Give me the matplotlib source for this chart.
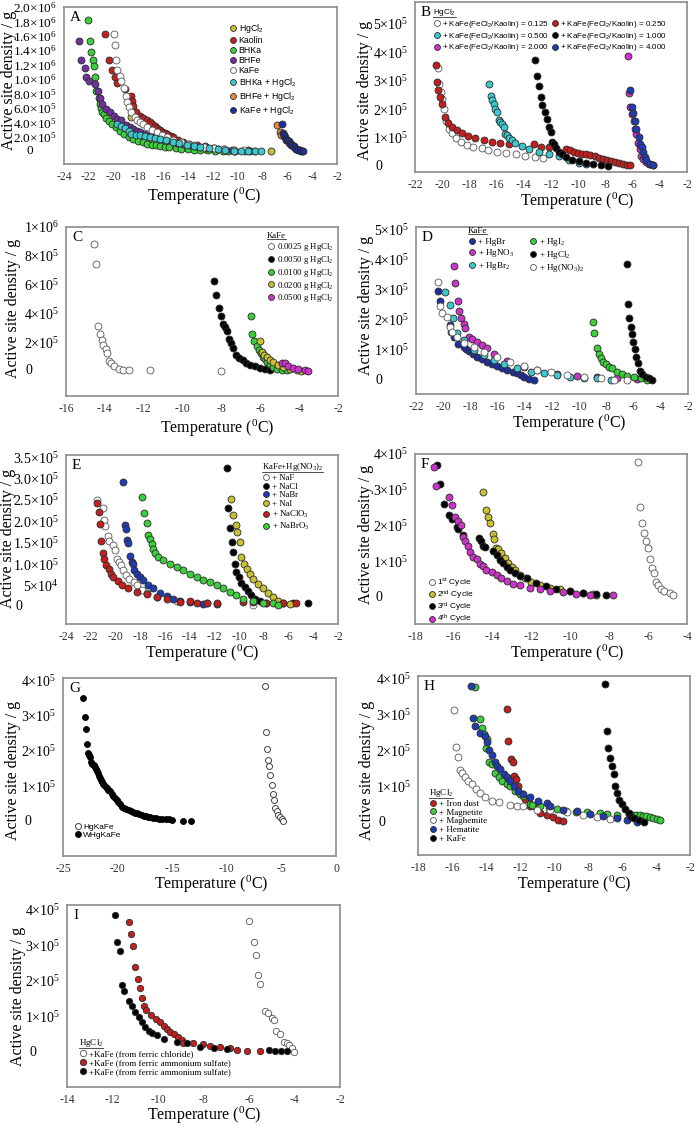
# Nine-panel active site density vs temperature figure.
import matplotlib
matplotlib.use("Agg")
from matplotlib import pyplot as plt
from matplotlib.lines import Line2D
from matplotlib.transforms import blended_transform_factory

plt.rcParams["font.family"] = ["Liberation Serif", "DejaVu Serif"]
plt.rcParams["mathtext.default"] = "regular"
plt.rcParams["axes.unicode_minus"] = False

# ---------------- data (temperature in C, density in units of 1e5 per g) ----------------
# Panel A
a_hgcl2_t = [-18.6, -18.3, -17.8, -17.2, -16.5, -15.8, -15.0, -14.2, -13.4, -12.6, -11.8, -11.0, -10.2, -9.4, -9.0, -7.3]
a_hgcl2_y = [4.7, 2.4, 1.9, 1.5, 1.15, 0.9, 0.7, 0.52, 0.38, 0.28, 0.2, 0.13, 0.08, 0.05, 0.03, 0.01]
a_kaolin_t = [-20.7, -20.4, -20.1, -19.9, -19.7, -19.1, -18.6, -18.5, -18.4, -18.2, -17.9, -17.6, -17.3, -17.1, -16.9, -16.7,
              -16.5, -16.3, -16.1, -15.9, -15.7, -15.4, -15.2, -14.8, -14.4, -13.9, -13.3, -12.6, -11.9, -11.1, -10.3, -9.2]
a_kaolin_y = [16.3, 12.6, 11.2, 10.3, 9.5, 8.6, 7.7, 7.0, 6.2, 5.4, 4.9, 4.6, 4.3, 4.0, 3.7, 3.5,
              3.2, 2.9, 2.7, 2.5, 2.35, 2.15, 1.96, 1.6, 1.28, 1.0, 0.82, 0.65, 0.5, 0.35, 0.23, 0.14]
a_bhka_t = [-22.1, -21.9, -21.8, -21.7, -21.6, -21.5, -21.4, -21.2, -21.1, -21.0, -20.9, -20.8, -20.6, -20.4, -20.1, -19.8,
            -19.5, -19.2, -18.8, -18.4, -18.0, -17.6, -17.3, -16.9, -16.6, -16.3, -15.9, -15.5, -15.0, -14.6, -14.0, -13.5,
            -13.0, -12.4, -11.8, -11.2, -10.8, -10.3]
a_bhka_y = [18.2, 15.3, 13.7, 12.6, 11.8, 10.3, 8.4, 7.4, 6.5, 6.0, 5.5, 5.1, 4.6, 4.2, 3.8, 3.3,
            2.8, 2.4, 2.0, 1.7, 1.45, 1.25, 1.05, 0.92, 0.82, 0.73, 0.62, 0.52, 0.44, 0.37, 0.28, 0.21,
            0.14, 0.1, 0.07, 0.05, 0.04, 0.03]
a_bhfe_t = [-22.8, -22.6, -22.3, -22.2, -22.0, -21.5, -21.3, -21.1, -20.9, -20.6, -20.3, -20.0, -19.7, -19.4, -19.0, -18.7,
            -18.4, -18.1, -17.9, -17.5, -17.1, -16.8, -16.4, -16.1, -15.7, -15.3, -14.9, -14.4, -13.9, -13.5, -13.0, -12.5,
            -12.0, -11.6, -11.0, -10.5]
a_bhfe_y = [15.3, 12.6, 11.6, 10.3, 9.7, 9.3, 8.3, 7.4, 6.5, 5.9, 5.4, 4.9, 4.5, 4.3, 3.6, 3.3,
            3.1, 2.8, 2.6, 2.35, 2.15, 2.0, 1.8, 1.65, 1.5, 1.35, 1.15, 0.96, 0.8, 0.7, 0.6, 0.5,
            0.4, 0.3, 0.2, 0.14]
a_kafe_t = [-20.0, -19.9, -19.8, -19.7, -19.5, -19.4, -19.2, -19.0, -18.9, -18.8, -18.6, -18.3, -18.1, -17.9, -17.6, -17.3,
            -16.9, -16.5, -16.1, -15.7, -15.2, -14.6, -14.0, -13.5, -12.7, -11.9, -11.1, -10.3, -9.5, -8.6]
a_kafe_y = [16.3, 14.7, 12.6, 11.2, 10.4, 9.7, 8.8, 7.7, 6.8, 6.1, 5.4, 4.7, 4.3, 4.0, 3.7, 3.4,
            3.0, 2.65, 2.3, 1.96, 1.6, 1.28, 1.0, 0.82, 0.6, 0.41, 0.28, 0.18, 0.1, 0.05]
a_bhka_hg_t = [-19.7, -19.4, -19.1, -18.8, -18.6, -18.2, -17.9, -17.5, -17.1, -16.7, -16.3, -15.8, -15.2, -14.7, -14.1, -13.5,
               -13.0, -12.3, -11.6, -11.0, -10.3, -9.7, -9.2, -8.6, -8.1]
a_bhka_hg_y = [3.8, 3.5, 3.2, 2.8, 2.4, 2.3, 2.2, 2.1, 2.0, 1.85, 1.7, 1.5, 1.28, 1.1, 0.91, 0.75,
               0.6, 0.45, 0.3, 0.2, 0.09, 0.07, 0.05, 0.05, 0.05]
a_bhfe_hg_t = [-6.8, -6.6, -6.5, -6.3, -6.1, -5.9, -5.7, -5.5, -5.3, -5.1, -4.9]
a_bhfe_hg_y = [3.6, 2.6, 2.3, 2.1, 1.5, 1.1, 0.8, 0.55, 0.37, 0.15, 0.05]
a_kafe_hg_t = [-6.4, -6.35, -6.3, -6.2, -6.1, -6.0, -5.9, -5.8, -5.7, -5.6, -5.5, -5.4, -5.3, -5.15, -5.0, -4.85, -4.7]
a_kafe_hg_y = [3.8, 2.5, 2.2, 1.9, 1.7, 1.55, 1.4, 1.2, 1.05, 0.85, 0.7, 0.5, 0.37, 0.2, 0.1, 0.05, 0.02]

# Panel B
b_0125_t = [-20.3, -20.2, -20.1, -20.0, -19.9, -19.7, -19.5, -19.3, -19.0, -18.6, -18.2, -17.7, -17.1, -16.6, -16.0, -15.3,
            -14.6, -13.9, -13.2, -12.6]
b_0125_y = [3.45, 2.9, 2.6, 2.35, 2.0, 1.6, 1.3, 1.15, 1.0, 0.85, 0.75, 0.68, 0.62, 0.55, 0.5, 0.45,
            0.41, 0.37, 0.32, 0.27]
b_0250_t = [-20.47, -20.37, -20.3, -20.17, -20.05, -19.8, -19.56, -19.31, -18.94, -18.57, -18.07, -17.58, -16.96, -16.35,
            -15.73, -15.11, -13.26, -12.77, -12.15, -10.91, -10.6, -10.3, -10.0, -9.7, -9.4, -9.1, -8.8, -8.5, -8.2, -7.9,
            -7.6, -7.3, -7.0, -6.7, -6.4, -6.2]
b_0250_y = [3.56, 2.97, 2.66, 2.42, 2.19, 1.74, 1.51, 1.37, 1.25, 1.16, 1.04, 1.0, 0.93, 0.84,
            0.81, 0.78, 0.76, 0.67, 0.67, 0.59, 0.55, 0.5, 0.47, 0.44, 0.41, 0.38, 0.34, 0.3, 0.26, 0.22,
            0.17, 0.13, 0.09, 0.06, 0.04, 0.03]
b_0500_t = [-16.59, -16.42, -16.35, -16.22, -16.1, -15.98, -15.85, -15.73, -15.6, -15.48, -15.36, -15.23, -15.11, -14.86,
            -14.62, -14.12, -13.63, -12.89, -12.15, -11.41, -10.67, -9.93, -9.43]
b_0500_y = [2.87, 2.45, 2.31, 2.17, 2.01, 1.9, 1.63, 1.55, 1.49, 1.37, 1.14, 1.08, 0.98, 0.9,
            0.81, 0.7, 0.61, 0.49, 0.41, 0.35, 0.22, 0.12, 0.08]
b_1000_t = [-13.19, -13.06, -12.89, -12.77, -12.64, -12.47, -12.32, -12.15, -12.02, -11.9, -11.78, -11.6, -11.41, -11.16,
            -10.91, -10.42, -9.93, -9.43, -8.94, -8.32, -7.83]
b_1000_y = [3.74, 3.15, 2.83, 2.42, 2.13, 1.9, 1.66, 1.39, 1.19, 0.84, 0.76, 0.64, 0.49, 0.41,
            0.32, 0.22, 0.16, 0.12, 0.08, 0.035, 0.01]
b_2000_t = [-6.35, -6.27, -6.17, -6.05, -5.93, -5.8, -5.73, -5.6, -5.48, -5.36, -5.23, -5.04, -4.79, -4.49]
b_2000_y = [3.86, 2.56, 2.07, 1.84, 1.6, 1.31, 1.14, 0.81, 0.61, 0.37, 0.26, 0.14, 0.08, 0.035]
b_4000_t = [-6.22, -6.05, -5.98, -5.85, -5.73, -5.56, -5.43, -5.33, -5.23, -5.11, -4.99, -4.74, -4.49]
b_4000_y = [2.66, 2.07, 1.86, 1.58, 1.31, 1.02, 0.78, 0.67, 0.49, 0.32, 0.2, 0.08, 0.02]

# Panel C
c_0025_t = [-14.54, -14.46, -14.37, -14.27, -14.17, -14.07, -13.96, -13.89, -13.79, -13.69, -13.55, -13.29, -13.07, -12.78,
            -11.67, -8.0]
c_0025_y = [8.83, 7.4, 3.09, 2.55, 2.15, 1.8, 1.5, 1.22, 0.7, 0.52, 0.33, 0.12, 0.09, 0.09, 0.05, 0.02]
c_0050_t = [-8.4, -8.29, -8.12, -8.0, -7.9, -7.8, -7.7, -7.59, -7.51, -7.39, -7.25, -7.08, -6.91, -6.74, -6.53, -6.27,
            -6.02, -5.76, -5.5]
c_0050_y = [6.25, 5.27, 4.38, 3.8, 3.28, 3.04, 2.74, 2.2, 1.92, 1.57, 1.1, 0.91, 0.75, 0.52, 0.4, 0.33, 0.23, 0.16, 0.09]
c_0100_t = [-6.5, -6.41, -6.31, -6.19, -6.09, -5.98, -5.88, -5.76, -5.64, -5.5, -5.33, -5.16, -4.9, -4.65]
c_0100_y = [3.84, 2.53, 2.04, 1.73, 1.45, 1.22, 0.98, 0.8, 0.63, 0.47, 0.28, 0.16, 0.09, 0.05]
c_0200_t = [-6.02, -5.93, -5.81, -5.67, -5.5, -5.33, -5.08, -4.82, -4.48, -4.13, -3.88]
c_0200_y = [2.04, 1.33, 1.1, 0.94, 0.75, 0.59, 0.42, 0.28, 0.16, 0.09, 0.02]
c_0500_t = [-4.9, -4.73, -4.56, -4.3, -4.05, -3.7, -3.53]
c_0500_y = [0.56, 0.52, 0.35, 0.23, 0.12, 0.05, 0.0]

# Panel D
d_hgbr_t = [-20.4, -20.21, -19.52, -19.4, -19.23, -18.9, -18.49, -18.3, -18.12, -17.8, -17.5, -17.15, -16.77, -16.4,
            -16.04, -15.7, -15.3, -14.9, -14.56, -14.3, -14.07, -13.7, -13.34]
d_hgbr_y = [2.96, 2.63, 1.83, 1.6, 1.44, 1.2, 1.08, 1.02, 0.97, 0.87, 0.77, 0.69, 0.61, 0.53,
            0.46, 0.39, 0.33, 0.27, 0.22, 0.16, 0.11, 0.05, 0.0]
d_hgno3_t = [-19.23, -19.1, -18.93, -18.81, -18.66, -18.49, -18.37, -18.12, -17.88, -17.5, -17.14, -16.77, -16.28, -15.3,
             -14.07, -13.09, -11.62, -10.15, -8.67, -7.2, -5.73]
d_hgno3_y = [3.79, 3.21, 2.63, 2.3, 2.05, 1.86, 1.71, 1.44, 1.35, 1.27, 1.16, 1.05, 0.86, 0.64,
             0.44, 0.33, 0.2, 0.13, 0.09, 0.06, 0.03]
d_hgbr2_t = [-19.84, -19.47, -19.3, -18.98, -18.49, -17.75, -17.02, -16.28, -15.55, -14.56, -13.58, -12.6, -11.62, -10.64,
             -9.66, -8.67, -7.69]
d_hgbr2_y = [2.93, 2.49, 2.05, 1.57, 1.33, 1.0, 0.83, 0.66, 0.53, 0.39, 0.28, 0.22, 0.17, 0.11, 0.08, 0.06, 0.02]
d_hgno32_t = [-20.4, -20.26, -20.09, -19.72, -19.52, -19.35, -18.98, -18.49, -17.75, -17.02, -16.04, -15.06, -14.07,
              -13.09, -12.11, -10.88, -9.66, -8.43, -7.45, -6.47]
d_hgno32_y = [3.26, 2.46, 2.23, 2.1, 1.77, 1.6, 1.44, 1.22, 1.11, 0.94, 0.77, 0.61, 0.48, 0.35, 0.28, 0.17, 0.11, 0.06,
              0.02, 0.0]
d_hgi2_t = [-8.99, -8.92, -8.72, -8.55, -8.43, -8.26, -8.06, -7.82, -7.57, -7.2, -6.83, -6.47, -5.98, -5.48, -4.99]
d_hgi2_y = [1.91, 1.55, 1.07, 0.85, 0.72, 0.61, 0.52, 0.44, 0.39, 0.28, 0.2, 0.13, 0.09, 0.06, 0.02]
d_hgcl2_t = [-6.52, -6.42, -6.34, -6.22, -6.15, -6.02, -5.9, -5.8, -5.68, -5.56, -5.36, -5.12, -4.87, -4.63]
d_hgcl2_y = [3.85, 2.52, 2.05, 1.75, 1.52, 1.25, 1.02, 0.75, 0.55, 0.31, 0.2, 0.11, 0.06, 0.0]

# Panel E
e_naf_t = [-21.5, -21.04, -20.96, -20.83, -20.64, -20.56, -20.21, -20.02, -19.89, -19.7, -19.54, -19.35, -19.13, -18.87,
           -18.54, -18.27, -17.87, -17.47, -16.66, -15.05, -12.63, -8.87]
e_naf_y = [2.5, 2.31, 2.02, 1.9, 1.65, 1.53, 1.44, 1.32, 1.13, 1.05, 0.97, 0.86, 0.74, 0.66, 0.58, 0.5, 0.4, 0.33,
           0.23, 0.14, 0.08, 0.05]
e_nacl_t = [-10.94, -10.88, -10.75, -10.56, -10.48, -10.34, -10.21, -10.02, -9.81, -9.54, -9.27, -9.0, -8.73, -8.33,
            -7.79, -6.98, -5.64, -4.43]
e_nacl_y = [3.24, 2.32, 1.85, 1.52, 1.28, 1.01, 0.82, 0.7, 0.56, 0.47, 0.37, 0.27, 0.19, 0.14, 0.1, 0.09, 0.09, 0.08]
e_nabr_t = [-19.35, -19.21, -19.13, -19.03, -18.95, -18.81, -18.68, -18.6, -18.46, -18.27, -18.01, -17.74, -17.33,
            -16.93, -16.39, -15.85, -15.32, -14.78, -13.97, -12.9, -11.82]
e_nabr_y = [2.92, 1.92, 1.83, 1.57, 1.49, 1.19, 1.05, 1.0, 0.86, 0.78, 0.7, 0.62, 0.51, 0.43, 0.33, 0.25, 0.18, 0.13,
            0.11, 0.06, 0.06]
e_nai_t = [-10.67, -10.48, -10.29, -10.13, -9.94, -9.81, -9.62, -9.4, -9.13, -8.87, -8.46, -8.06, -7.66, -7.25, -6.85,
           -6.45, -5.91]
e_nai_y = [2.53, 2.14, 1.91, 1.75, 1.52, 1.17, 1.01, 0.89, 0.76, 0.66, 0.54, 0.43, 0.33, 0.23, 0.14, 0.09, 0.06]
e_naclo3_t = [-21.5, -21.37, -21.28, -21.18, -21.04, -20.91, -20.75, -20.56, -20.37, -20.16, -19.83, -19.48, -18.95,
              -18.27, -17.47, -16.66, -15.85, -14.78, -13.97, -13.44, -12.63, -11.82, -9.67, -8.87, -7.79, -6.45, -5.37]
e_naclo3_y = [2.43, 2.22, 1.94, 1.53, 1.26, 1.13, 0.97, 0.89, 0.76, 0.7, 0.61, 0.51, 0.43, 0.35, 0.29, 0.23, 0.19,
              0.12, 0.14, 0.09, 0.1, 0.09, 0.11, 0.12, 0.09, 0.1, 0.08]
e_nabro3_t = [-17.87, -17.68, -17.47, -17.33, -17.2, -17.06, -16.93, -16.8, -16.53, -16.12, -15.59, -15.05, -14.51,
              -13.97, -13.44, -12.9, -12.36, -11.82, -11.28, -10.75, -10.21, -9.67, -8.87, -8.06, -7.25, -6.85]
e_nabro3_y = [2.57, 2.19, 1.97, 1.69, 1.58, 1.48, 1.36, 1.26, 1.17, 1.09, 1.01, 0.93, 0.86, 0.78, 0.7, 0.64, 0.58,
              0.51, 0.43, 0.35, 0.27, 0.19, 0.14, 0.1, 0.08, 0.05]

# Panel F
f_c1_t = [-6.51, -6.41, -6.32, -6.22, -6.1, -6.01, -5.93, -5.81, -5.72, -5.62, -5.5, -5.33, -5.16, -4.9, -4.7]
f_c1_y = [3.79, 2.53, 2.06, 1.78, 1.56, 1.38, 1.06, 0.82, 0.66, 0.42, 0.33, 0.23, 0.17, 0.11, 0.07]
f_c2_t = [-14.52, -14.32, -14.23, -14.15, -14.01, -13.92, -13.84, -13.72, -13.55, -13.38, -13.21, -13.03, -12.86, -12.61,
          -12.35, -12.01, -11.58, -11.07, -10.55, -10.04, -9.35, -8.84, -8.67]
f_c2_y = [2.95, 2.42, 2.23, 2.08, 1.76, 1.61, 1.38, 1.33, 1.22, 1.08, 0.94, 0.84, 0.75, 0.61, 0.52, 0.42, 0.33, 0.25,
          0.21, 0.16, 0.11, 0.08, 0.07]
f_c3_t = [-16.89, -16.72, -16.49, -16.25, -16.12, -15.86, -15.77, -15.52, -14.7, -14.61, -14.49, -14.4, -14.01, -13.8,
          -13.63, -13.46, -13.29, -13.12, -12.86, -12.61, -12.26, -11.75, -11.24, -10.72, -10.04, -9.35, -8.67, -8.15]
f_c3_y = [3.7, 3.17, 2.6, 2.29, 2.17, 1.97, 1.89, 1.73, 1.66, 1.56, 1.43, 1.4, 1.29, 1.17, 1.03, 0.94, 0.84, 0.75,
          0.66, 0.58, 0.52, 0.4, 0.3, 0.23, 0.16, 0.11, 0.09, 0.07]
f_c4_t = [-17.02, -16.92, -16.24, -16.12, -15.95, -15.77, -15.64, -15.52, -15.43, -15.26, -15.17, -15.0, -14.83, -14.66,
          -14.49, -14.32, -14.06, -13.8, -13.55, -13.29, -12.95, -12.61, -12.09, -11.58, -11.07, -10.38, -9.7, -9.01, -7.81]
f_c4_y = [3.65, 3.11, 2.8, 2.56, 2.25, 2.13, 2.01, 1.69, 1.56, 1.42, 1.26, 1.12, 1.05, 0.92, 0.86, 0.75, 0.7, 0.61,
          0.52, 0.45, 0.37, 0.33, 0.25, 0.21, 0.16, 0.13, 0.09, 0.07, 0.07]

# Panel G
g_hg_t = [-6.5, -6.44, -6.28, -6.19, -6.13, -6.04, -5.89, -5.73, -5.67, -5.58, -5.43, -5.28, -5.12, -4.97, -4.82]
g_hg_y = [3.84, 2.53, 2.06, 1.75, 1.57, 1.33, 1.03, 0.8, 0.63, 0.39, 0.3, 0.21, 0.14, 0.08, 0.04]
g_whg_t = [-23.17, -23.01, -22.92, -22.8, -22.71, -22.6, -22.5, -22.4, -22.3, -22.2, -22.1, -22.0, -21.9, -21.8, -21.7,
           -21.6, -21.5, -21.4, -21.3, -21.2, -21.1, -21.0, -20.85, -20.7, -20.55, -20.4, -20.25, -20.1, -19.95, -19.8,
           -19.6, -19.4, -19.2, -19.0, -18.8, -18.6, -18.4, -18.2, -18.0, -17.8, -17.6, -17.4, -17.2, -17.0, -16.8,
           -16.5, -16.2, -15.9, -15.6, -15.3, -15.0, -14.0, -13.3]
g_whg_y = [3.51, 2.95, 2.63, 2.21, 1.94, 1.88, 1.82, 1.7, 1.64, 1.6, 1.56, 1.5, 1.44, 1.38, 1.3,
           1.24, 1.18, 1.12, 1.08, 1.03, 0.99, 0.95, 0.9, 0.86, 0.8, 0.74, 0.68, 0.62, 0.56, 0.5,
           0.43, 0.39, 0.36, 0.33, 0.3, 0.28, 0.26, 0.24, 0.22, 0.2, 0.18, 0.16, 0.15, 0.13, 0.12,
           0.1, 0.09, 0.08, 0.07, 0.07, 0.06, 0.04, 0.04]

# Panel H
h_iron_t = [-12.77, -12.68, -12.54, -12.44, -12.38, -12.25, -12.09, -11.89, -11.7, -11.41, -11.11, -10.82, -10.43,
            -10.04, -9.74, -9.45]
h_iron_y = [3.15, 2.27, 1.77, 1.68, 1.3, 1.21, 1.0, 0.79, 0.65, 0.46, 0.44, 0.25, 0.21, 0.13, 0.07, 0.04]
h_magn_t = [-14.63, -14.38, -14.24, -14.09, -13.95, -13.99, -13.85, -13.66, -13.46, -13.26, -13.07, -12.77, -12.58,
            -12.29, -11.99, -11.8, -11.41, -11.31, -10.82, -10.3, -9.8, -9.3, -8.7, -8.08, -7.3, -6.9, -6.32, -5.6,
            -5.34, -5.15, -4.95, -4.75, -4.56, -4.35, -4.16, -3.95, -3.77]
h_magn_y = [3.77, 2.88, 2.64, 2.46, 2.33, 2.08, 1.68, 1.63, 1.37, 1.26, 1.16, 1.07, 1.0, 0.88, 0.79, 0.74, 0.51, 0.49,
            0.44, 0.4, 0.36, 0.32, 0.29, 0.27, 0.25, 0.23, 0.21, 0.22, 0.21, 0.2, 0.19, 0.17, 0.16, 0.13, 0.11, 0.08, 0.05]
h_magh_t = [-15.91, -15.75, -15.67, -15.55, -15.42, -15.22, -15.03, -14.83, -14.58, -14.34, -14.05, -13.66, -13.26,
            -12.58, -12.19, -11.8, -11.01, -10.23, -9.25, -8.27, -7.49, -6.71]
h_magh_y = [3.13, 2.1, 1.82, 1.46, 1.37, 1.26, 1.16, 1.05, 0.93, 0.81, 0.71, 0.6, 0.55, 0.48, 0.46, 0.44, 0.35, 0.33,
            0.28, 0.21, 0.14, 0.08]
h_hema_t = [-14.87, -14.77, -14.67, -14.38, -14.05, -13.95, -13.85, -13.66, -13.5, -13.36, -13.17, -12.97, -12.77,
            -12.58, -12.38, -12.09, -11.8, -11.41, -10.92, -10.43, -10.23, -9.45, -8.67, -7.88, -7.1, -6.32, -5.73, -5.14]
h_hema_y = [3.81, 2.92, 2.68, 2.5, 2.4, 2.24, 2.02, 1.87, 1.68, 1.56, 1.49, 1.35, 1.27, 1.16, 1.0, 0.88, 0.79, 0.69,
            0.6, 0.52, 0.44, 0.35, 0.3, 0.23, 0.18, 0.11, 0.05, 0.0]
h_kafe_t = [-7.0, -6.9, -6.8, -6.7, -6.6, -6.5, -6.4, -6.3, -6.15, -6.0, -5.8, -5.6, -5.45, -5.3, -5.0, -4.7]
h_kafe_y = [3.86, 2.55, 2.08, 1.79, 1.56, 1.33, 1.02, 0.82, 0.62, 0.5, 0.37, 0.25, 0.15, 0.1, 0.05, 0.01]

# Panel I
i_cl_t = [-6.02, -5.8, -5.7, -5.61, -5.51, -5.29, -5.17, -5.0, -4.88, -4.8, -4.63, -4.48, -4.34, -4.22, -4.12, -4.01]
i_cl_y = [3.68, 3.1, 2.74, 2.17, 1.91, 1.17, 1.09, 0.97, 0.9, 0.61, 0.52, 0.29, 0.25, 0.2, 0.11, 0.02]
i_red_t = [-11.29, -11.19, -11.1, -11.0, -10.9, -10.81, -10.71, -10.6, -10.52, -10.3, -10.09, -9.9, -9.75, -9.61,
           -9.46, -9.31, -9.1, -8.95, -8.88, -8.47, -8.0, -7.7, -7.27, -6.83, -6.53, -6.09, -5.51]
i_red_y = [3.65, 3.31, 2.98, 2.39, 2.05, 1.81, 1.52, 1.31, 1.19, 1.05, 0.93, 0.84, 0.75, 0.65, 0.58, 0.52, 0.43,
           0.34, 0.27, 0.27, 0.23, 0.18, 0.15, 0.11, 0.06, 0.04, 0.03]
i_blk_t = [-11.88, -11.8, -11.69, -11.58, -11.48, -11.29, -11.14, -11.0, -10.85, -10.71, -10.56, -10.41, -10.27,
           -10.05, -9.75, -9.17, -8.73, -8.14, -7.56, -6.97, -5.1, -4.85, -4.59, -4.31]
i_blk_y = [3.85, 3.08, 2.84, 1.9, 1.71, 1.44, 1.29, 1.14, 0.99, 0.84, 0.7, 0.61, 0.55, 0.49, 0.38, 0.29, 0.25, 0.15,
           0.11, 0.09, 0.06, 0.05, 0.04, 0.03]

# ---------------- colours ----------------
RED = "#c2201e"
GREEN = "#3ccf3c"
PURPLE = "#7030a0"
CYAN = "#3cc8cf"
ORANGE = "#e8893c"
NAVY = "#1f2f9c"
BLUE = "#1f3cb4"
MAGENTA = "#cc33c8"
OLIVE = "#c8c032"
EDGE = "#2b2b2b"

W, H = 698, 1125
fig = plt.figure(figsize=(W / 100, H / 100), dpi=100)


def panel(box, xlim, xticks, ylim, yticks, ylabels, letter, zero_x, ylab_xy, xlab_xy, ytick_fs=10):
    l, t, r, b = box
    ax = fig.add_axes([l / W, 1 - b / H, (r - l) / W, (b - t) / H])
    ax.set_xlim(*xlim)
    ax.set_ylim(*ylim)
    ax.set_xticks(xticks)
    ax.set_xticklabels([str(v) for v in xticks])
    ax.set_yticks(yticks)
    ax.set_yticklabels(["" if s == "0" else s for s in ylabels])
    ax.tick_params(length=0)
    ax.tick_params(axis="x", labelsize=8.5, pad=5, labelcolor="#333333")
    ax.tick_params(axis="y", labelsize=ytick_fs, pad=5)
    for sp in ax.spines.values():
        sp.set_color("#8c8c8c")
        sp.set_linewidth(1.2)
    tr = blended_transform_factory(fig.transFigure, ax.transData)
    ax.text(zero_x / W, 0, "0", transform=tr, ha="center", va="center", fontsize=ytick_fs)
    fig.text(ylab_xy[0] / W, 1 - ylab_xy[1] / H, "Active site density / g", rotation=90,
             ha="center", va="center", fontsize=11.5)
    fig.text(xlab_xy[0] / W, 1 - xlab_xy[1] / H, "Temperature ($^{0}$C)",
             ha="center", va="center", fontsize=11.5)
    ax.text(6 / (r - l), 1 - 4 / (b - t), letter, transform=ax.transAxes, ha="left", va="top", fontsize=11)
    return ax


def dots(ax, t, y, color, ms=5.0, edge=EDGE, mew=0.6):
    return ax.plot(t, y, "o", ls="none", ms=ms, mfc=color, mec=edge, mew=mew)[0]


titled = []


def key(ax, handles, labels, x, y, fs=6.5, family="Liberation Serif", title=None, ncol=1,
        spacing=0.1, colsp=0.5, mscale=0.85):
    leg = ax.legend(handles, labels, loc="upper left", bbox_to_anchor=(x / W, 1 - y / H),
                    bbox_transform=fig.transFigure, frameon=False, ncol=ncol,
                    prop={"family": family, "size": fs}, handlelength=0.9, handletextpad=0.2,
                    labelspacing=spacing, borderpad=0, borderaxespad=0, columnspacing=colsp,
                    title=title, title_fontproperties={"family": family, "size": fs},
                    alignment="left", markerscale=mscale)
    if title:
        titled.append(leg)
    return leg


ticks5 = [0, 1, 2, 3, 4, 5]
lab5 = ["0"] + ["%d×10$^{5}$" % v for v in ticks5[1:]]

# ---------------- A ----------------
axA = panel((64, 7, 337, 164), (-24, -2), list(range(-24, -1, 2)), (-1.78, 20.0), list(range(0, 21, 2)),
            ["0"] + ["%.1f×10$^{5}$" % v for v in (2, 4, 6, 8)] + ["%.1f×10$^{6}$" % (v / 10) for v in range(10, 21, 2)],
            "A", 30, (9, 80), (204, 196), ytick_fs=9.5)
hA = [dots(axA, a_hgcl2_t, a_hgcl2_y, OLIVE),
      dots(axA, a_kaolin_t, a_kaolin_y, RED),
      dots(axA, a_bhka_t, a_bhka_y, GREEN),
      dots(axA, a_bhfe_t, a_bhfe_y, PURPLE),
      dots(axA, a_kafe_t, a_kafe_y, "white", edge="#555555"),
      dots(axA, a_bhka_hg_t, a_bhka_hg_y, CYAN),
      dots(axA, a_bhfe_hg_t, a_bhfe_hg_y, ORANGE),
      dots(axA, a_kafe_hg_t, a_kafe_hg_y, NAVY)]
key(axA, hA, ["HgCl$_2$", "Kaolin", "BHKa", "BHFe", "KaFe", "BHKa + HgCl$_2$", "BHFe + HgCl$_2$", "KaFe + HgCl$_2$"],
    229, 22, fs=6.3, family="Liberation Sans", spacing=0.12)

# ---------------- B ----------------
axB = panel((415, 2, 687, 172), (-22, -2), list(range(-22, -1, 2)), (-0.21, 5.77), ticks5, lab5,
            "B", 379, (365, 90), (577, 201))
hB = [dots(axB, b_0125_t, b_0125_y, "white", edge="#555555"),
      dots(axB, b_0250_t, b_0250_y, RED),
      dots(axB, b_0500_t, b_0500_y, CYAN),
      dots(axB, b_1000_t, b_1000_y, "black"),
      dots(axB, b_2000_t, b_2000_y, MAGENTA),
      dots(axB, b_4000_t, b_4000_y, BLUE)]
labB = ["+ KaFe(FeCl$_2$/Kaolin) = %s" % s for s in ("0.125", "0.250", "0.500", "1.000", "2.000", "4.000")]
order = [0, 2, 4, 1, 3, 5]
key(axB, [hB[i] for i in order], [labB[i] for i in order], 433, 7, fs=5.8, family="Liberation Sans",
    title="HgCl$_2$", ncol=2, spacing=0.1, colsp=0.3)

# ---------------- C ----------------
axC = panel((66, 227, 338, 396), (-16, -2), list(range(-16, -1, 2)), (-1.75, 10.0), [0, 2, 4, 6, 8, 10],
            ["0", "2×10$^{5}$", "4×10$^{5}$", "6×10$^{5}$", "8×10$^{5}$", "1×10$^{6}$"],
            "C", 29, (13, 308), (217, 428))
hC = [dots(axC, c_0025_t, c_0025_y, "white", edge="#555555"),
      dots(axC, c_0050_t, c_0050_y, "black"),
      dots(axC, c_0100_t, c_0100_y, GREEN),
      dots(axC, c_0200_t, c_0200_y, OLIVE),
      dots(axC, c_0500_t, c_0500_y, MAGENTA)]
key(axC, hC, ["%s g HgCl$_2$" % s for s in ("0.0025", "0.0050", "0.0100", "0.0200", "0.0500")],
    267, 232, fs=6.3, title="KaFe", spacing=0.1)

# ---------------- D ----------------
axD = panel((416, 227, 688, 394), (-22, -2), list(range(-22, -1, 2)), (-0.46, 5.07), ticks5, lab5,
            "D", 379, (366, 305), (569, 423))
hD = [dots(axD, d_hgbr_t, d_hgbr_y, NAVY),
      dots(axD, d_hgno3_t, d_hgno3_y, MAGENTA),
      dots(axD, d_hgbr2_t, d_hgbr2_y, CYAN),
      dots(axD, d_hgi2_t, d_hgi2_y, GREEN),
      dots(axD, d_hgcl2_t, d_hgcl2_y, "black"),
      dots(axD, d_hgno32_t, d_hgno32_y, "white", edge="#555555")]
key(axD, hD, ["+ HgBr", "+ HgNO$_3$", "+ HgBr$_2$", "+ HgI$_2$", "+ HgCl$_2$", "+ Hg(NO$_3$)$_2$"],
    468, 227, fs=6.5, title="KaFe", ncol=2, spacing=0.1, colsp=1.6)

# ---------------- E ----------------
axE = panel((66, 455, 338, 624), (-24, -2), list(range(-24, -1, 2)), (-0.4, 3.55), [0, 0.5, 1, 1.5, 2, 2.5, 3, 3.5],
            ["0", "5×10$^{4}$"] + ["%.1f×10$^{5}$" % v for v in (1, 1.5, 2, 2.5, 3, 3.5)],
            "E", 19, (8, 538), (202, 653))
hE = [dots(axE, e_naf_t, e_naf_y, "white", edge="#555555"),
      dots(axE, e_nacl_t, e_nacl_y, "black"),
      dots(axE, e_nabr_t, e_nabr_y, BLUE),
      dots(axE, e_nai_t, e_nai_y, OLIVE),
      dots(axE, e_naclo3_t, e_naclo3_y, RED),
      dots(axE, e_nabro3_t, e_nabro3_y, GREEN)]
key(axE, hE, ["+ NaF", "+ NaCl", "+ NaBr", "+ NaI", "+ NaClO$_3$", "+ NaBrO$_3$"],
    262, 461, fs=6.3, title="KaFe+Hg(NO$_3$)$_2$", spacing=0.08)

# ---------------- F ----------------
axF = panel((415, 454, 687, 624), (-18, -4), list(range(-18, -3, 2)), (-0.755, 4.0), [0, 1, 2, 3, 4], lab5[:5],
            "F", 379, (366, 534), (567, 653))
hF = [dots(axF, f_c1_t, f_c1_y, "white", edge="#555555"),
      dots(axF, f_c2_t, f_c2_y, OLIVE),
      dots(axF, f_c3_t, f_c3_y, "black"),
      dots(axF, f_c4_t, f_c4_y, MAGENTA)]
key(axF, hF, ["1$^{st}$ Cycle", "2$^{nd}$ Cycle", "3$^{rd}$ Cycle", "4$^{th}$ Cycle"],
    428, 577, fs=6.0, family="Liberation Sans", spacing=-0.12)

# ---------------- G ----------------
axG = panel((63, 678, 336, 856), (-25, 0), list(range(-25, 1, 5)), (-0.96, 4.06), [0, 1, 2, 3, 4], lab5[:5],
            "G", 28, (13, 770), (211, 884))
hG = [dots(axG, g_hg_t, g_hg_y, "white", ms=4.3, edge="#444444", mew=0.7),
      dots(axG, g_whg_t, g_whg_y, "black", ms=4.3, edge="black")]
key(axG, hG, ["HgKaFe", "WHgKaFe"], 74, 823, fs=6.0, family="Liberation Sans", spacing=0.05, mscale=1.0)

# ---------------- H ----------------
axH = panel((418, 676, 690, 855), (-18, -2), list(range(-18, -1, 2)), (-0.92, 4.08), [0, 1, 2, 3, 4], lab5[:5],
            "H", 382, (367, 770), (574, 884))
hH = [dots(axH, h_iron_t, h_iron_y, RED),
      dots(axH, h_magn_t, h_magn_y, GREEN),
      dots(axH, h_magh_t, h_magh_y, "white", edge="#555555"),
      dots(axH, h_hema_t, h_hema_y, BLUE),
      dots(axH, h_kafe_t, h_kafe_y, "black")]
key(axH, hH, ["+ Iron dust", "+ Magnetite", "+ Maghemite", "+ Hematite", "+ KaFe"],
    429, 787, fs=6.5, title="HgCl$_2$", spacing=0.05)

# ---------------- I ----------------
axI = panel((67, 905, 340, 1087), (-14, -2), list(range(-14, -1, 2)), (-0.97, 4.13), [0, 1, 2, 3, 4], lab5[:5],
            "I", 33, (18, 996), (204, 1115))
hI = [dots(axI, i_cl_t, i_cl_y, "white", ms=4.6, edge="#555555"),
      dots(axI, i_red_t, i_red_y, RED, ms=4.6),
      dots(axI, i_blk_t, i_blk_y, "black", ms=4.6)]
key(axI, hI, ["+KaFe (from ferric chloride)", "+KaFe (from ferric ammonium sulfate)",
              "+KaFe (from ferric ammonium sulfate)"],
    79, 1037, fs=6.5, title="HgCl$_2$", spacing=0.08, mscale=1.0)

# underline legend headers
fig.canvas.draw()
for leg in titled:
    bb = leg.get_title().get_window_extent()
    fig.add_artist(Line2D([bb.x0 / W, bb.x1 / W], [(bb.y0 + 1.5) / H] * 2, transform=fig.transFigure,
                          color="#333333", lw=0.6))

fig.savefig("out.png", dpi=100)
